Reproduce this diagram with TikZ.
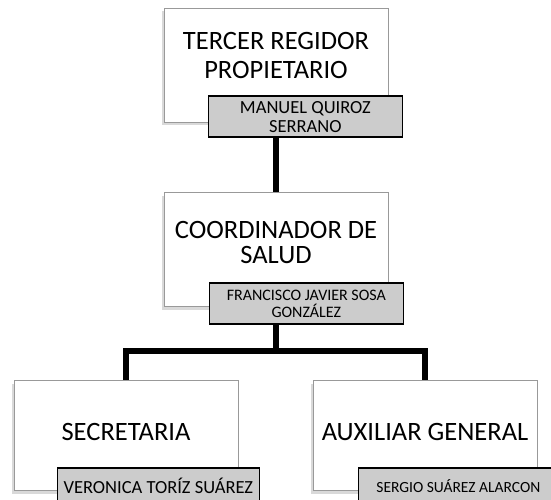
\documentclass[tikz,border=0pt]{standalone}
\usepackage{fontspec}
\setmainfont{Carlito}
\usetikzlibrary{positioning, shadows, calc}

\begin{document}
\begin{tikzpicture}[
        post/.style = {
            rectangle,
            draw=black!40,
            fill=white,
            line width=0.8pt,
            minimum width=224pt,
            minimum height=114pt,
            align = center,
            text depth=20pt,
            font = \fontsize{26.5}{29}\selectfont,
            drop shadow={shadow xshift=-2pt, shadow yshift=-3pt, opacity=0.3}
        },
        person/.style = {
            rectangle,
            draw,
            fill=black!20,
            line width=1.5pt,
            anchor=north west,
            minimum width=194pt,
            minimum height=41pt,
            inner sep=1pt,
            align = center
        },
        branch/.style = {
            line width=5.5pt
        }
    ]
    \useasboundingbox (0,0) rectangle (551pt,-499pt);

    \node (regidor) [post] at (276pt,-65pt)
        {TERCER REGIDOR\\PROPIETARIO};
    \node (coordinador) [post, below=70pt of regidor, text depth=14pt, font=\fontsize{26.5}{25}\selectfont]
        {COORDINADOR DE\\SALUD};
    \node (secretaria) [post, minimum height=110pt, text depth=7pt, below=73pt of coordinador, xshift=-150pt]
        {SECRETARIA};
    \node (auxiliar) [post, minimum height=110pt, text depth=7pt, below=73pt of coordinador, xshift=149pt]
        {AUXILIAR GENERAL};

    \draw[branch] (regidor) -- (coordinador);
    \draw[branch] (coordinador.south) -- ++(0,-44pt) coordinate (split);
    \draw[branch] (split) -| (secretaria.north);
    \draw[branch] (split) -| (auxiliar.north);

    \node (manuel) [person, font=\fontsize{18.5}{19}\selectfont] at ($(regidor.south west)+(44pt,27pt)$)
        {MANUEL QUIROZ\\SERRANO};
    \node (francisco) [person, font=\fontsize{16}{17}\selectfont] at ($(coordinador.south west)+(45pt,25pt)$)
        {FRANCISCO JAVIER SOSA\\GONZÁLEZ};
    \node (veronica) [person, minimum width=202pt, minimum height=37pt, font=\fontsize{18.5}{20}\selectfont] at ($(secretaria.south west)+(43pt,24pt)$)
        {VERONICA TORÍZ SUÁREZ};
    \node (sergio) [person, minimum width=200pt, minimum height=37pt, font=\fontsize{15.5}{17}\selectfont] at ($(auxiliar.south west)+(45pt,24pt)$)
        {SERGIO SUÁREZ ALARCON};
\end{tikzpicture}
\end{document}
